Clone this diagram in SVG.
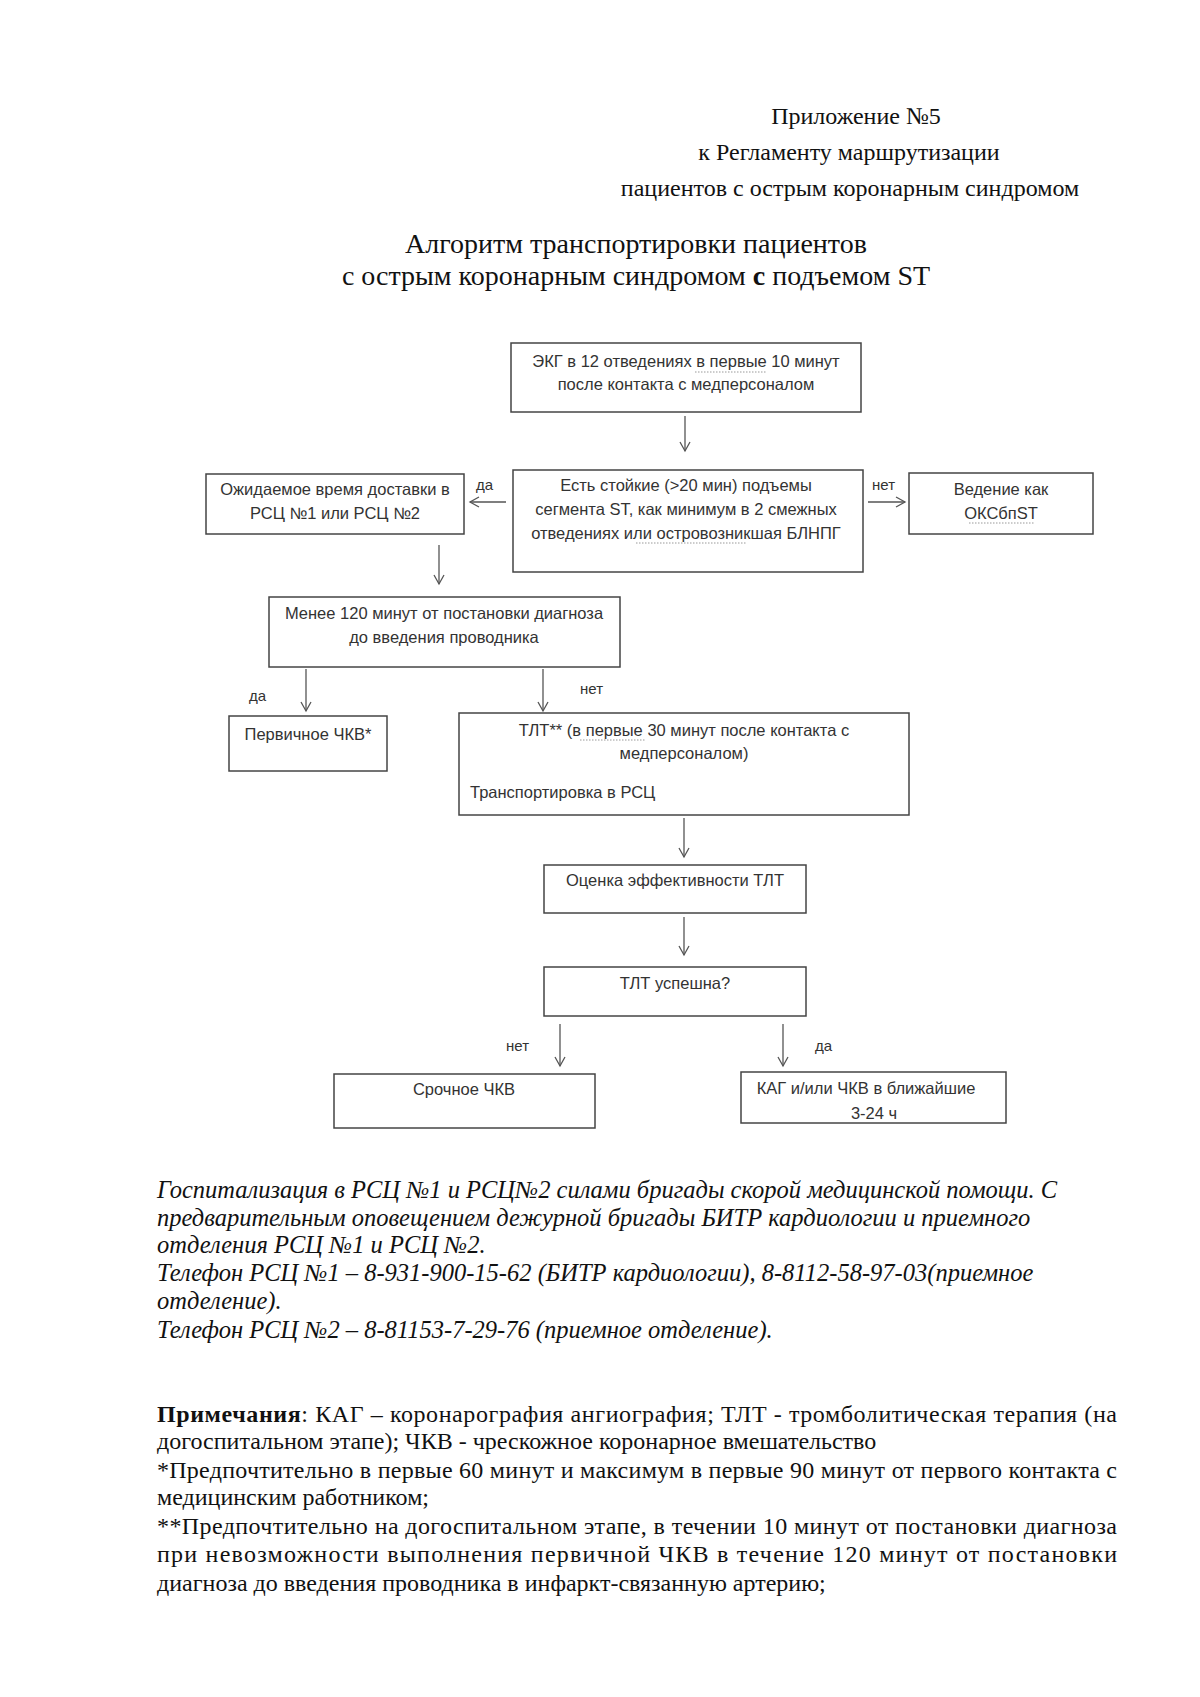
<svg xmlns="http://www.w3.org/2000/svg" width="1200" height="1697" viewBox="0 0 1200 1697">
<style>
.hd{font-family:"Liberation Serif","Times New Roman",serif;font-size:24px;fill:#111;text-anchor:middle}
.tt{font-family:"Liberation Serif","Times New Roman",serif;font-size:28px;fill:#111;text-anchor:middle}
.bx{fill:#fff;stroke:#444;stroke-width:1.5}
.t{font-family:"Liberation Sans",Arial,sans-serif;font-size:16.5px;fill:#333;text-anchor:middle}
.tl{font-family:"Liberation Sans",Arial,sans-serif;font-size:16.5px;fill:#333}
.lb{font-family:"Liberation Sans",Arial,sans-serif;font-size:15px;fill:#333}
.c{stroke:#555;stroke-width:1.3;fill:none}
.it{font-family:"Liberation Serif","Times New Roman",serif;font-size:24.5px;font-style:italic;fill:#111}
.nt{font-family:"Liberation Serif","Times New Roman",serif;font-size:24px;fill:#111}
.sq{stroke:#999;stroke-width:1;stroke-dasharray:1.5 1.5;fill:none}
</style>
<defs>
<marker id="ah" markerWidth="12" markerHeight="12" refX="10" refY="6" orient="auto" markerUnits="userSpaceOnUse">
<polyline points="1,1 10,6 1,11" fill="none" stroke="#555" stroke-width="1.3"/>
</marker>
</defs>
<rect width="1200" height="1697" fill="#fff"/>
<g id="header">
<text class="hd" x="856" y="124">Приложение №5</text>
<text class="hd" x="849" y="160">к Регламенту маршрутизации</text>
<text class="hd" x="850" y="196">пациентов с острым коронарным синдромом</text>
</g>
<g id="title">
<text class="tt" x="636" y="253">Алгоритм транспортировки пациентов</text>
<text class="tt" x="636" y="285">с острым коронарным синдромом <tspan font-weight="bold">с</tspan> подъемом ST</text>
</g>
<g id="n1">
<rect class="bx" x="511" y="343" width="350" height="69"/>
<text class="t" x="686" y="367">ЭКГ в 12 отведениях в первые 10 минут</text>
<text class="t" x="686" y="390">после контакта с медперсоналом</text>
<path class="sq" d="M695 372 h72"/>
</g>
<g id="n2">
<rect class="bx" x="513" y="470" width="350" height="102"/>
<text class="t" x="686" y="491">Есть стойкие (&gt;20 мин) подъемы</text>
<text class="t" x="686" y="515">сегмента ST, как минимум в 2 смежных</text>
<text class="t" x="686" y="539">отведениях или островозникшая БЛНПГ</text>
<path class="sq" d="M636 543 h110"/>
</g>
<g id="n3">
<rect class="bx" x="206" y="474" width="258" height="60"/>
<text class="t" x="335" y="495">Ожидаемое время доставки в</text>
<text class="t" x="335" y="519">РСЦ №1 или РСЦ №2</text>
</g>
<g id="n4">
<rect class="bx" x="909" y="473" width="184" height="61"/>
<text class="t" x="1001" y="495">Ведение как</text>
<text class="t" x="1001" y="519">ОКСбпST</text>
<path class="sq" d="M969 523 h66"/>
</g>
<g id="n5">
<rect class="bx" x="269" y="597" width="351" height="70"/>
<text class="t" x="444" y="619">Менее 120 минут от постановки диагноза</text>
<text class="t" x="444" y="643">до введения проводника</text>
</g>
<g id="n6">
<rect class="bx" x="229" y="716" width="158" height="55"/>
<text class="t" x="308" y="740">Первичное ЧКВ*</text>
</g>
<g id="n7">
<rect class="bx" x="459" y="713" width="450" height="102"/>
<text class="t" x="684" y="736">ТЛТ** (в первые 30 минут после контакта с</text>
<text class="t" x="684" y="759">медперсоналом)</text>
<text class="tl" x="470" y="798">Транспортировка в РСЦ</text>
<path class="sq" d="M580 740 h66"/>
</g>
<g id="n8">
<rect class="bx" x="544" y="865" width="262" height="48"/>
<text class="t" x="675" y="886">Оценка эффективности ТЛТ</text>
</g>
<g id="n9">
<rect class="bx" x="544" y="967" width="262" height="49"/>
<text class="t" x="675" y="989">ТЛТ успешна?</text>
</g>
<g id="n10">
<rect class="bx" x="334" y="1074" width="261" height="54"/>
<text class="t" x="464" y="1095">Срочное ЧКВ</text>
</g>
<g id="n11">
<rect class="bx" x="741" y="1072" width="265" height="51"/>
<text class="t" x="866" y="1094">КАГ и/или ЧКВ в ближайшие</text>
<text class="t" x="874" y="1119">3-24 ч</text>
</g>
<g id="connectors">
<path class="c" d="M685 416 V451" marker-end="url(#ah)"/>
<path class="c" d="M506 502 H470" marker-end="url(#ah)"/>
<path class="c" d="M868 502 H905" marker-end="url(#ah)"/>
<path class="c" d="M439 545 V584" marker-end="url(#ah)"/>
<path class="c" d="M306 669 V711" marker-end="url(#ah)"/>
<path class="c" d="M543 669 V711" marker-end="url(#ah)"/>
<path class="c" d="M684 818 V857" marker-end="url(#ah)"/>
<path class="c" d="M684 917 V955" marker-end="url(#ah)"/>
<path class="c" d="M560 1024 V1066" marker-end="url(#ah)"/>
<path class="c" d="M783 1024 V1066" marker-end="url(#ah)"/>
<text class="lb" x="476" y="490">да</text>
<text class="lb" x="872" y="490">нет</text>
<text class="lb" x="249" y="701">да</text>
<text class="lb" x="580" y="694">нет</text>
<text class="lb" x="506" y="1051">нет</text>
<text class="lb" x="815" y="1051">да</text>
</g>
<g id="hospitalization">
<text class="it" x="157" y="1198">Госпитализация в РСЦ №1 и  РСЦ№2 силами бригады скорой медицинской помощи. С</text>
<text class="it" x="157" y="1226">предварительным оповещением дежурной бригады БИТР кардиологии и приемного</text>
<text class="it" x="157" y="1253">отделения РСЦ №1 и РСЦ №2.</text>
<text class="it" x="157" y="1281">Телефон РСЦ №1 – 8-931-900-15-62 (БИТР кардиологии), 8-8112-58-97-03(приемное</text>
<text class="it" x="157" y="1309">отделение).</text>
<text class="it" x="157" y="1338">Телефон РСЦ №2 – 8-81153-7-29-76 (приемное отделение).</text>
</g>
<g id="notes">
<text class="nt" x="157" y="1422" textLength="960" lengthAdjust="spacing"><tspan font-weight="bold">Примечания</tspan>: КАГ – коронарография ангиография; ТЛТ - тромболитическая терапия (на</text>
<text class="nt" x="157" y="1449">догоспитальном этапе); ЧКВ - чрескожное коронарное вмешательство</text>
<text class="nt" x="157" y="1478" textLength="960" lengthAdjust="spacing">*Предпочтительно в первые 60 минут и максимум в первые 90 минут от первого контакта с</text>
<text class="nt" x="157" y="1505">медицинским работником;</text>
<text class="nt" x="157" y="1534" textLength="960" lengthAdjust="spacing">**Предпочтительно на догоспитальном этапе, в течении 10 минут от постановки диагноза</text>
<text class="nt" x="157" y="1562" textLength="960" lengthAdjust="spacing">при невозможности выполнения первичной ЧКВ в течение 120 минут от постановки</text>
<text class="nt" x="157" y="1591">диагноза до введения проводника в инфаркт-связанную артерию;</text>
</g>
</svg>
